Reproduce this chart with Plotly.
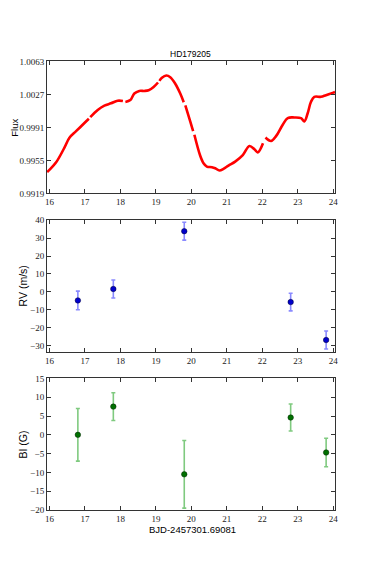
import plotly.graph_objects as go

# ---- Light curve (flux vs time), None marks gaps in the data ----
lc_time = [15.934, 16.188, 16.422, 16.563, 16.750, 16.985, 17.110, None,
           17.150, 17.360, 17.548, 17.735, 17.923, 18.070, None,
           18.140, 18.280, 18.392, 18.533, 18.674, 18.796, 18.936, 19.060, None,
           19.100, 19.171, 19.293, 19.405, 19.546, 19.687, 19.785, None,
           19.830, 19.968, 20.050, None,
           20.085, 20.250, 20.343, 20.437, 20.578, 20.672, 20.794, 20.906, 21.047,
           21.235, 21.450, 21.638, 21.779, 21.872, 22.020, None,
           22.090, 22.248, 22.388, 22.576, 22.717, 22.904, 23.092, 23.186, 23.280,
           23.373, 23.467, 23.655, 23.795, 23.983, 24.050]
lc_flux = [0.99422, 0.99530, 0.99690, 0.99797, 0.99869, 0.99958, 1.00005, None,
           1.00022, 1.00101, 1.00148, 1.00173, 1.00201, 1.00198, None,
           1.00188, 1.00208, 1.00280, 1.00308, 1.00308, 1.00316, 1.00351, 1.00400, None,
           1.00418, 1.00451, 1.00476, 1.00458, 1.00387, 1.00280, 1.00185, None,
           1.00150, 0.99976, 0.99870, None,
           0.99830, 0.99601, 0.99519, 0.99483, 0.99476, 0.99465, 0.99440, 0.99458, 0.99494,
           0.99537, 0.99608, 0.99708, 0.99672, 0.99637, 0.99738, None,
           0.99800, 0.99762, 0.99815, 0.99940, 1.00012, 1.00019, 1.00012, 0.99976, 1.00065,
           1.00190, 1.00244, 1.00244, 1.00262, 1.00287, 1.00296]

# ---- Radial velocity ----
obs_time = [16.8, 17.8, 19.8, 22.8, 23.8]
rv_vals = [-4.8, 1.6, 33.9, -5.7, -26.9]
rv_errs = [5.2, 5.0, 5.0, 4.9, 5.0]

# ---- Longitudinal field ----
bl_vals = [0.0, 7.5, -10.5, 4.6, -4.7]
bl_errs = [7.0, 3.7, 9.0, 3.6, 3.8]

# ---- Tick labels ----
x_ticks = [16, 17, 18, 19, 20, 21, 22, 23, 24]
flux_ticks = [0.9919, 0.9955, 0.9991, 1.0027, 1.0063]
flux_ticktext = ["0.9919", "0.9955", "0.9991", "1.0027", "1.0063"]
rv_ticks = [-30, -20, -10, 0, 10, 20, 30, 40]
bl_ticks = [-20, -15, -10, -5, 0, 5, 10, 15]

OFF = 8  # page body margin
W, H = 374 - OFF, 572 - OFF
L = 46.7 - OFF
PW = 335 - 46.7
R = W - L - PW

def py(p):
    return 1 - (p - OFF) / H

def px(p):
    return (p - OFF - L) / PW

fig = go.Figure()
fig.add_trace(go.Scatter(x=lc_time, y=lc_flux, mode="lines",
                         line=dict(color="#ff0000", width=2.6, shape="spline"),
                         connectgaps=False, xaxis="x", yaxis="y"))
fig.add_trace(go.Scatter(x=obs_time, y=rv_vals, mode="markers",
                         marker=dict(color="#0000cc", size=5.5, line=dict(color="#000033", width=0.5)),
                         error_y=dict(type="data", array=rv_errs, color="rgba(60,60,255,0.6)",
                                      thickness=1.6, width=2),
                         xaxis="x2", yaxis="y2"))
fig.add_trace(go.Scatter(x=obs_time, y=bl_vals, mode="markers",
                         marker=dict(color="#007000", size=5.5, line=dict(color="#002200", width=0.5)),
                         error_y=dict(type="data", array=bl_errs, color="rgba(0,150,0,0.5)",
                                      thickness=1.6, width=2),
                         xaxis="x3", yaxis="y3"))

tickfont = dict(family="Liberation Serif", size=9, color="#222")
axcommon = dict(showline=True, linecolor="#333", linewidth=1, mirror="allticks",
                ticks="inside", ticklen=4, tickcolor="#333", showgrid=False,
                zeroline=False, tickfont=tickfont)
xr = [15.93, 24.05]

fig.update_layout(
    width=W, height=H,
    margin=dict(l=L, r=R, t=0, b=0),
    paper_bgcolor="white", plot_bgcolor="white",
    showlegend=False,
    xaxis=dict(domain=[0, 1], range=xr, tickvals=x_ticks, anchor="y", **axcommon),
    yaxis=dict(domain=[py(191.7), py(57.3)], range=[0.9919, 1.0063],
               tickvals=flux_ticks, ticktext=flux_ticktext, anchor="x", **axcommon),
    xaxis2=dict(domain=[0, 1], range=xr, tickvals=x_ticks, anchor="y2", **axcommon),
    yaxis2=dict(domain=[py(353.3), py(219)], range=[-33.7, 40],
                tickvals=rv_ticks, anchor="x2", **axcommon),
    xaxis3=dict(domain=[0, 1], range=xr, tickvals=x_ticks, anchor="y3", **axcommon),
    yaxis3=dict(domain=[py(514), py(380)], range=[-20, 15],
                tickvals=bl_ticks, anchor="x3", **axcommon),
)

sans = "Liberation Sans, Arial, sans-serif"
ann = [
    dict(text="HD179205", x=px(190), y=py(50), size=8.5, angle=0),
    dict(text="Flux", x=px(14), y=py(124.5), size=9.5, angle=-90),
    dict(text="RV (m/s)", x=px(23), y=py(286), size=10.5, angle=-90),
    dict(text="BI (G)", x=px(23), y=py(447), size=10.5, angle=-90),
    dict(text="BJD-2457301.69081", x=px(192), y=py(534), size=9.5, angle=0),
]
for a in ann:
    fig.add_annotation(text=a["text"], x=a["x"], y=a["y"], xref="paper", yref="paper",
                       xanchor="center", yanchor="middle", showarrow=False,
                       textangle=a["angle"], font=dict(family=sans, size=a["size"], color="black"))

fig.write_html("out.html")
